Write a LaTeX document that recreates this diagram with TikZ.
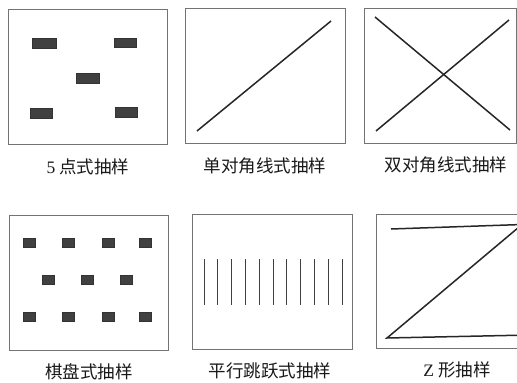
\documentclass[tikz,border=0pt]{standalone}
\usepackage{fontspec}
\setmainfont{Liberation Serif}
\newfontfamily\cjk{Noto Sans CJK SC}
\begin{document}
\begin{tikzpicture}[x=1pt,y=-1pt,
  panel/.style={draw=black!55, line width=0.9pt},
  stroke/.style={draw=black!85, line width=1.5pt},
  blockmark/.style={fill=black!75, draw=black!80, line width=0.4pt},
  vline/.style={draw=black!75, line width=0.9pt},
  caption/.style={font=\cjk\fontsize{17.5}{20}\selectfont, text=black!90, inner sep=0pt}]
\useasboundingbox (0,0) rectangle (517,383);
\clip (0,0) rectangle (517,383);
\fill[white] (0,0) rectangle (517,383);

% Panel 1: 5 points
\draw[panel] (8,9) rectangle (167,144);
\draw[blockmark] (32,38) rectangle (56,48);
\draw[blockmark] (114,38) rectangle (136,47);
\draw[blockmark] (76,73) rectangle (99,83);
\draw[blockmark] (30,108) rectangle (52,118);
\draw[blockmark] (115,107) rectangle (137,117);
\node[caption] (c1) at (88,167) {{\fontspec{Liberation Serif}5} 点式抽样};

% Panel 2: single diagonal
\draw[panel] (185,8) rectangle (345,143);
\coordinate (d2a) at (197,131);
\coordinate (d2b) at (331,21);
\draw[stroke] (d2a) -- (d2b);
\node[caption] (c2) at (265,166) {单对角线式抽样};

% Panel 3: double diagonal
\draw[panel] (364,8) rectangle (516,143);
\coordinate (d3a) at (375,17);
\coordinate (d3b) at (510,130);
\coordinate (d3c) at (376,131);
\coordinate (d3d) at (509,20);
\draw[stroke] (d3a) -- (d3b);
\draw[stroke] (d3c) -- (d3d);
\node[caption] (c3) at (446,165) {双对角线式抽样};

% Panel 4: chessboard
\draw[panel] (9,215) rectangle (168,350);
\foreach \x in {23,62,102,139}{
  \draw[blockmark] (\x,238) rectangle ++(12.5,9);
  \draw[blockmark] (\x,312) rectangle ++(12.5,9);
}
\foreach \x in {42,81,120}{
  \draw[blockmark] (\x,275) rectangle ++(12.5,9);
}
\node[caption] (c4) at (89,372) {棋盘式抽样};

% Panel 5: parallel skip
\draw[panel] (192,214) rectangle (352,349);
\foreach \i in {0,...,10}{
  \draw[vline] ({204+13.8*\i},259) -- ({204+13.8*\i},305);
}
\node[caption] (c5) at (270,371) {平行跳跃式抽样};

% Panel 6: Z shape
\draw[panel] (376,214) rectangle (540,348);
\coordinate (z1) at (391,229);
\coordinate (z2) at (522,224.5);
\coordinate (z3) at (387,338);
\coordinate (z4) at (530,335);
\draw[stroke, line join=miter] (z1) -- (z2) -- (z3) -- (z4);
\node[caption] (c6) at (457,370) {{\fontspec{Liberation Serif}Z} 形抽样};
\end{tikzpicture}
\end{document}
